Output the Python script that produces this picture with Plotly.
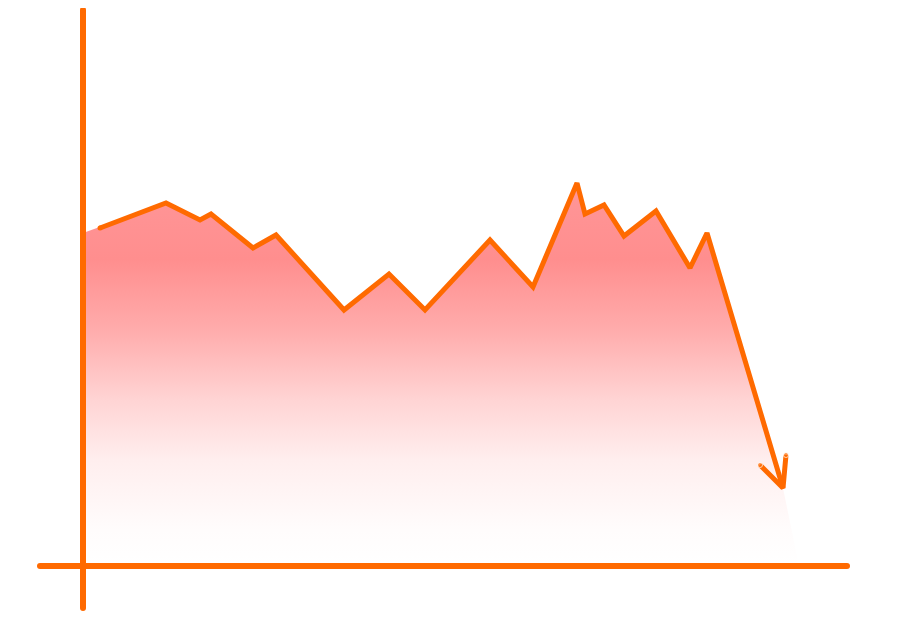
import plotly.graph_objects as go

# Data (x: horizontal position units, y: value units; origin at axis crossing)
line_x = [1.7, 8.3, 11.7, 12.8, 17.0, 19.3, 26.1, 30.6, 34.2, 40.7, 45.0,
          49.4, 50.2, 52.1, 54.1, 57.3, 60.7, 62.4, 70.0]
line_y = [67.6, 72.6, 69.2, 70.4, 63.6, 66.2, 51.2, 58.4, 51.2, 65.2, 55.8,
          76.6, 70.4, 72.2, 66.0, 71.0, 59.6, 66.6, 15.6]

fill_start = (0.0, 66.6)
fill_end_bottom_x = 71.6

arrow_left = (67.7, 20.2)
arrow_right = (70.3, 22.2)

x_axis_range = [-7.5, 84.8]
y_axis_range = [-16.4, 111.6]
vaxis_y = [-8.4, 111.2]
haxis_x = [-4.3, 76.4]

ORANGE = "#ff6a00"

fill_x = [fill_start[0]] + line_x[1:] + [fill_end_bottom_x, 0.0]
fill_y = [fill_start[1]] + line_y[1:] + [0.0, 0.0]

fig = go.Figure()

fig.add_trace(go.Scatter(
    x=fill_x, y=fill_y, mode="lines", fill="toself",
    line=dict(width=0, color="rgba(0,0,0,0)"),
    fillgradient=dict(
        type="vertical", start=0, stop=76.6,
        colorscale=[
            [0.0, "rgb(255,255,255)"],
            [0.094, "rgb(255,252,252)"],
            [0.277, "rgb(255,238,238)"],
            [0.433, "rgb(255,212,212)"],
            [0.616, "rgb(255,172,172)"],
            [0.80, "rgb(255,142,142)"],
            [1.0, "rgb(255,150,152)"],
        ],
    ),
    hoverinfo="skip", showlegend=False,
))

# axes lines
fig.add_trace(go.Scatter(x=[0, 0], y=vaxis_y, mode="lines+markers",
                         line=dict(color=ORANGE, width=6),
                         marker=dict(color=ORANGE, size=6),
                         showlegend=False, hoverinfo="skip"))
fig.add_trace(go.Scatter(x=haxis_x, y=[0, 0], mode="lines+markers",
                         line=dict(color=ORANGE, width=6),
                         marker=dict(color=ORANGE, size=6),
                         showlegend=False, hoverinfo="skip"))

# main line
fig.add_trace(go.Scatter(x=line_x, y=line_y, mode="lines",
                         line=dict(color=ORANGE, width=5),
                         showlegend=False, hoverinfo="skip"))
# arrowhead
tip = (line_x[-1], line_y[-1])
fig.add_trace(go.Scatter(
    x=[arrow_left[0], tip[0], arrow_right[0]],
    y=[arrow_left[1], tip[1], arrow_right[1]],
    mode="lines+markers", line=dict(color=ORANGE, width=5),
    marker=dict(color=ORANGE, size=[5, 0, 5]),
    showlegend=False, hoverinfo="skip"))
# round start cap
fig.add_trace(go.Scatter(x=[line_x[0]], y=[line_y[0]], mode="markers",
                         marker=dict(color=ORANGE, size=5),
                         showlegend=False, hoverinfo="skip"))

fig.update_layout(
    width=923, height=640,
    margin=dict(l=0, r=0, t=0, b=0),
    paper_bgcolor="white", plot_bgcolor="white",
    xaxis=dict(range=x_axis_range, visible=False, fixedrange=True),
    yaxis=dict(range=y_axis_range, visible=False, fixedrange=True),
)

fig.write_html("out.html")
